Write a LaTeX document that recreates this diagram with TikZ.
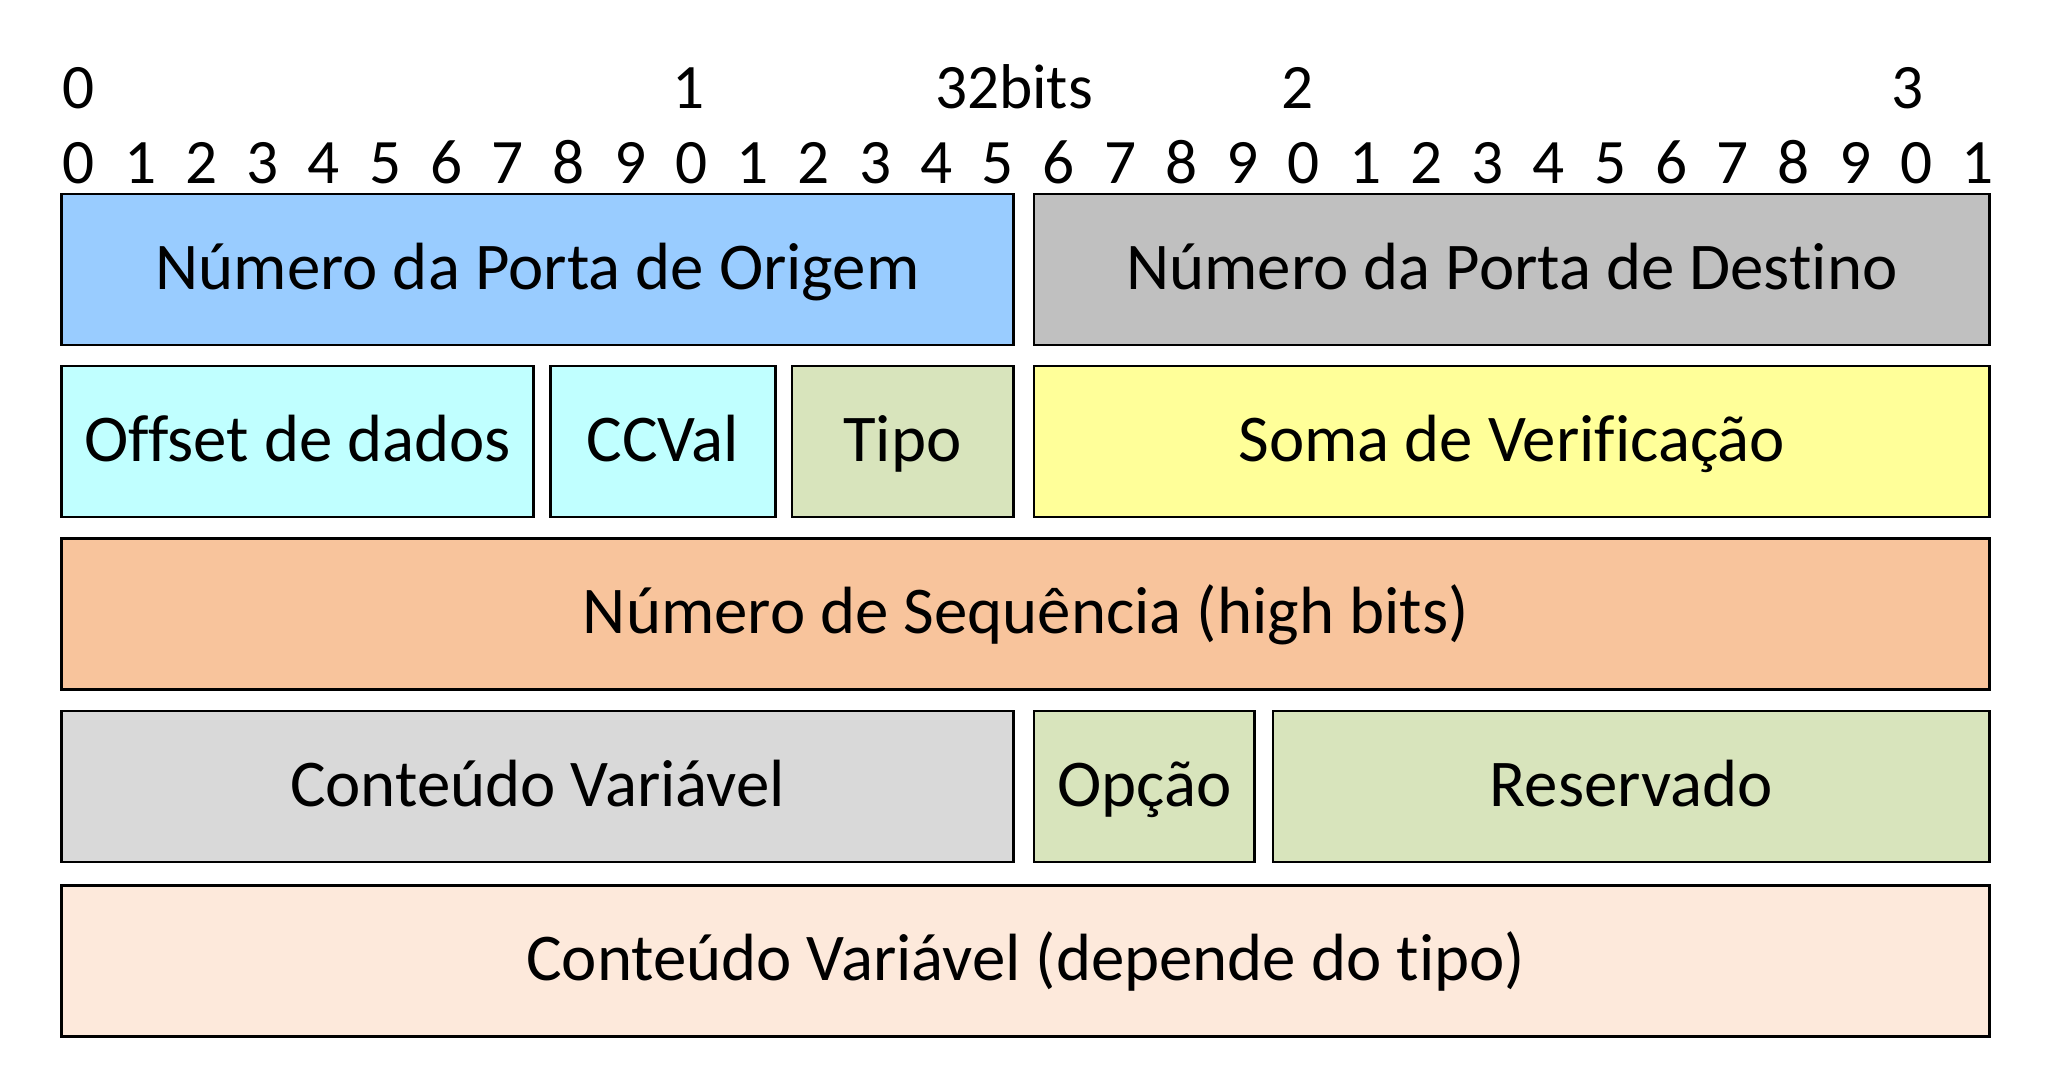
\documentclass[tikz,border=0pt]{standalone}
\usepackage{fontspec}
\setmainfont{Carlito}[Ligatures={NoCommon}]
\definecolor{origem}{HTML}{99CCFF}
\definecolor{destino}{HTML}{C0C0C0}
\definecolor{offset}{HTML}{C0FFFF}
\definecolor{tipo}{HTML}{D8E4BC}
\definecolor{soma}{HTML}{FFFF99}
\definecolor{seq}{HTML}{F8C49C}
\definecolor{conteudo}{HTML}{D9D9D9}
\definecolor{extra}{HTML}{FDE9DB}
\begin{document}
\begin{tikzpicture}[x=0.01cm,y=-0.01cm,font=\fontsize{18}{21.6}\selectfont]
  \tikzset{field/.style={draw=black,line width=0.8pt,anchor=north west,inner sep=0pt,outer sep=0pt,
      minimum height=1.51cm,text height=0.494cm,text depth=0.1cm,font=\fontsize{19}{22.8}\selectfont}}
  \useasboundingbox (0,0) rectangle (2060,1092);
  % bit numbers
  \foreach \i in {0,...,31}{
    \pgfmathtruncatemacro\d{mod(\i,10)}
    \node[anchor=base] (b\i) at ({78.8+61.25*\i},184) {\d};
  }
  \foreach \i/\t in {0/0,10/1,20/2,30/3}
    \node[anchor=base] (t\i) at ({78.8+60.96*\i},109) {\t};
  \node[anchor=base] (bits) at (1014,109) {32bits};
  % fields
  \node[field,fill=origem,minimum width=9.51cm] (origem) at (61.7,194) {Número da Porta de Origem};
  \node[field,fill=destino,minimum width=9.55cm] (destino) at (1034,194) {Número da Porta de Destino};
  \node[field,fill=offset,minimum width=4.717cm] (offset) at (61.7,366) {Offset de dados};
  \node[field,fill=offset,minimum width=2.245cm] (ccval) at (550.5,366) {CCVal};
  \node[field,fill=tipo,minimum width=2.21cm] (tipo) at (792,366) {Tipo};
  \node[field,fill=soma,minimum width=9.55cm] (soma) at (1034,366) {Soma de Verificação};
  \node[field,fill=seq,minimum width=19.27cm] (seq) at (61.7,538.7) {Número de Sequência (high bits)};
  \node[field,fill=conteudo,minimum width=9.51cm] (conteudo) at (61.7,711) {Conteúdo Variável};
  \node[field,fill=tipo,minimum width=2.207cm] (opcao) at (1034,711) {Opção};
  \node[field,fill=tipo,minimum width=7.16cm] (reserv) at (1273,711) {Reservado};
  \node[field,fill=extra,minimum width=19.27cm] (extra) at (61.7,885.5) {Conteúdo Variável (depende do tipo)};
\end{tikzpicture}
\end{document}
